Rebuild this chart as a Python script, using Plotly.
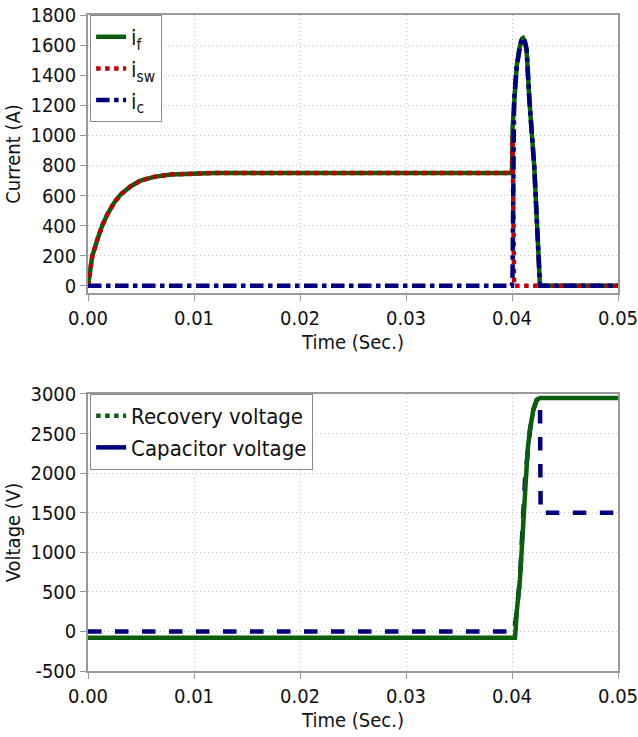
import plotly.graph_objects as go

# ---------------- data: top panel (currents) ----------------
t_f = [0, 0.0002, 0.0004, 0.00088, 0.00135, 0.00182, 0.00245, 0.00308, 0.00403,
       0.00497, 0.00623, 0.0078, 0.010, 0.012, 0.015, 0.020, 0.030,
       0.0400, 0.04006, 0.04019, 0.04044, 0.04066, 0.04085, 0.04095, 0.04104, 0.04113,
       0.04121, 0.04138, 0.04164, 0.0421, 0.04242, 0.04264, 0.05]
i_f = [0, 110, 196, 307, 402, 473, 551, 607, 662,
       700, 724, 740, 749, 750, 750, 750, 750,
       750, 1058, 1235, 1456, 1567, 1625, 1643, 1647, 1640,
       1625, 1567, 1235, 792, 350, 0, 0]

t_sw = [0, 0.0002, 0.0004, 0.00088, 0.00135, 0.00182, 0.00245, 0.00308, 0.00403,
        0.00497, 0.00623, 0.0078, 0.010, 0.012, 0.015, 0.020, 0.030,
        0.0400, 0.04005, 0.0402, 0.05]
i_sw = [0, 110, 196, 307, 402, 473, 551, 607, 662,
        700, 724, 740, 749, 750, 750, 750, 750,
        750, 1000, 0, 0]

t_c = [0, 0.0400, 0.04005, 0.0402, 0.04044, 0.04066, 0.04085, 0.04095, 0.04104, 0.04113,
       0.04121, 0.04138, 0.04164, 0.0421, 0.04242, 0.04264, 0.05]
i_c = [0, 0, 60, 1235, 1456, 1567, 1625, 1643, 1647, 1640,
       1625, 1567, 1235, 792, 350, 0, 0]

# ---------------- data: bottom panel (voltages) ----------------
t_cap = [0, 0.04028, 0.04036, 0.04044, 0.04075, 0.04100, 0.04123, 0.04148, 0.0417,
         0.04201, 0.04233, 0.0425, 0.04264, 0.05]
v_cap = [-80, -80, 60, 240, 657, 1300, 1920, 2300, 2550,
         2800, 2925, 2948, 2950, 2950]

t_rec = [0, 0.0402, 0.04044, 0.04075, 0.04123, 0.0417, 0.04201, 0.04233, 0.04264, 0.0427, 0.05]
v_rec = [0, 0, 240, 657, 1920, 2550, 2800, 2925, 2950, 1500, 1500]

x_ticks = [0, 0.01, 0.02, 0.03, 0.04, 0.05]
x_labels = ["0.00", "0.01", "0.02", "0.03", "0.04", "0.05"]
y1_ticks = [0, 200, 400, 600, 800, 1000, 1200, 1400, 1600, 1800]
y2_ticks = [-500, 0, 500, 1000, 1500, 2000, 2500, 3000]
y2_labels = ["-500", "0", "500", "1000", "1500", "2000", "2500", "3000"]

GREEN = "#0b5e0b"
RED = "#c00000"
BLUE = "#00007f"
FONT = "DejaVu Sans Condensed"

fig = go.Figure()

# top panel
fig.add_trace(go.Scatter(x=t_f, y=i_f, mode="lines", name="i<sub>f</sub>",
                         line=dict(color=GREEN, width=4.5), xaxis="x", yaxis="y",
                         legend="legend"))
fig.add_trace(go.Scatter(x=t_sw, y=i_sw, mode="lines", name="i<sub>sw</sub>",
                         line=dict(color=RED, width=4.5, dash="dot"), xaxis="x", yaxis="y",
                         legend="legend"))
fig.add_trace(go.Scatter(x=t_c, y=i_c, mode="lines", name="i<sub>c</sub>",
                         line=dict(color=BLUE, width=4.5, dash="dashdot"), xaxis="x", yaxis="y",
                         legend="legend"))

# bottom panel (drawn lines)
fig.add_trace(go.Scatter(x=t_rec, y=v_rec, mode="lines", name="Recovery voltage",
                         line=dict(color=BLUE, width=4.5, dash="dash"), xaxis="x2", yaxis="y2",
                         showlegend=False))
fig.add_trace(go.Scatter(x=t_cap, y=v_cap, mode="lines", name="Capacitor voltage",
                         line=dict(color=GREEN, width=4.5), xaxis="x2", yaxis="y2",
                         showlegend=False))
# legend entries as shown in the original figure
fig.add_trace(go.Scatter(x=[None], y=[None], mode="lines", name="Recovery voltage",
                         line=dict(color=GREEN, width=4.5, dash="dot"), xaxis="x2", yaxis="y2",
                         legend="legend2"))
fig.add_trace(go.Scatter(x=[None], y=[None], mode="lines", name="Capacitor voltage",
                         line=dict(color=BLUE, width=4.5), xaxis="x2", yaxis="y2",
                         legend="legend2"))

axis_common = dict(showline=True, linecolor="#999999", linewidth=1.5, mirror=True,
                   showgrid=True, gridcolor="#c4c4c4", griddash="1px,3px", gridwidth=1,
                   zeroline=False, ticks="outside", ticklen=6, tickcolor="#999999",
                   ticklabeloverflow="allow", automargin=False,
                   tickfont=dict(family=FONT, size=20, color="#111111"))

fig.update_layout(
    width=638, height=737,
    margin=dict(l=88, r=20, t=15, b=66),
    paper_bgcolor="white", plot_bgcolor="white",
    font=dict(family=FONT, size=20, color="#111111"),
    xaxis=dict(domain=[0, 1], anchor="y", range=[0, 0.0500001], tickvals=x_ticks,
               ticktext=x_labels,
               title=dict(text="Time (Sec.)", font=dict(family=FONT, size=20), standoff=2),
               **axis_common),
    yaxis=dict(domain=[0.5762, 1], anchor="x", range=[-48, 1800], tickvals=y1_ticks,
               title=dict(text="Current (A)", font=dict(family=FONT, size=20), standoff=4),
               **axis_common),
    xaxis2=dict(domain=[0, 1], anchor="y2", range=[0, 0.0500001], tickvals=x_ticks,
                ticktext=x_labels,
                title=dict(text="Time (Sec.)", font=dict(family=FONT, size=20), standoff=2),
                **axis_common),
    yaxis2=dict(domain=[0, 0.4223], anchor="x2", range=[-500, 3000], tickvals=y2_ticks,
                ticktext=y2_labels,
                title=dict(text="Voltage (V)", font=dict(family=FONT, size=20), standoff=4),
                **axis_common),
    legend=dict(x=0.004, y=1.0, xanchor="left", yanchor="top",
                bgcolor="white", bordercolor="#888888", borderwidth=1,
                font=dict(family=FONT, size=22), tracegroupgap=0),
    legend2=dict(x=0.004, y=0.4223, xanchor="left", yanchor="top",
                 bgcolor="white", bordercolor="#888888", borderwidth=1,
                 font=dict(family=FONT, size=22), tracegroupgap=0),
    showlegend=True,
)

fig.write_html("out.html")
